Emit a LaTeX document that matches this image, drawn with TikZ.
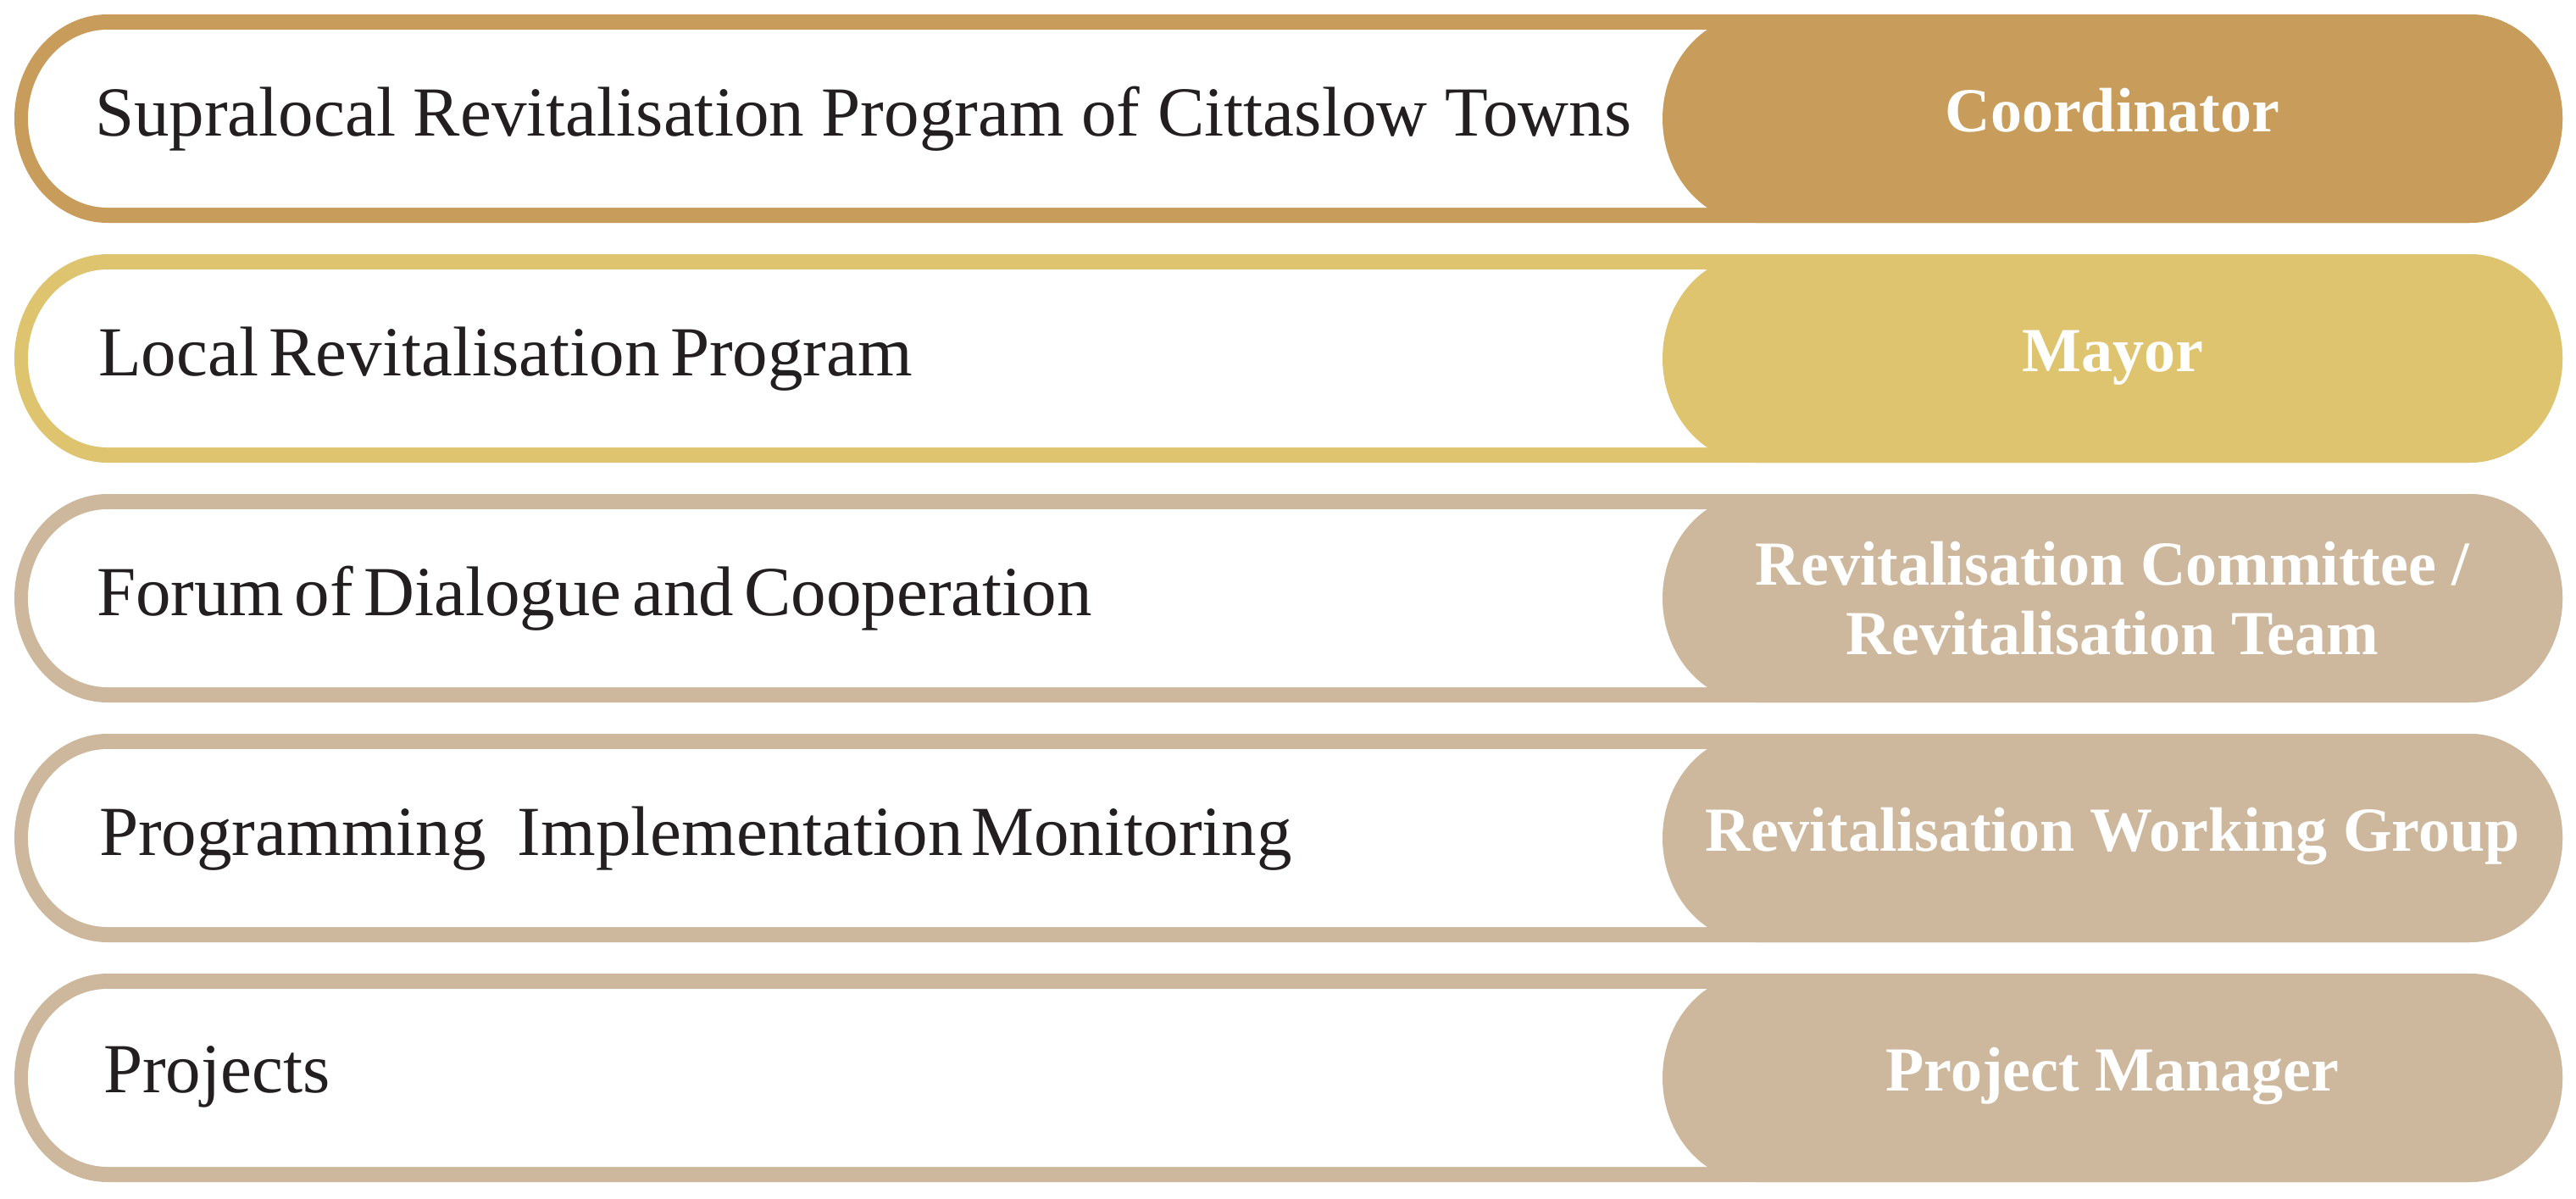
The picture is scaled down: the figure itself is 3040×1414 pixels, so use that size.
\documentclass[tikz,border=0pt]{standalone}
\usepackage{fontspec}
\setmainfont{Liberation Serif}
\definecolor{goldA}{HTML}{C89C5A}
\definecolor{goldB}{HTML}{DEC46E}
\definecolor{beige}{HTML}{CDB89D}
\definecolor{inkc}{HTML}{231F20}
\newcommand\pillpath[5]{({#1+#5},#3) -- ({#2-#5},#3) arc[start angle=-90,end angle=90,x radius=#5,y radius={#4/2}] -- ({#1+#5},{#3+#4}) arc[start angle=90,end angle=270,x radius=#5,y radius={#4/2}] -- cycle}
\newcommand\pillrow[2]{% color, top
  \fill[#1] \pillpath{17}{3024}{#2}{246}{110};
  \fill[white] \pillpath{33}{2600}{#2+18}{210}{94};
  \fill[#1] \pillpath{1962}{3024}{#2}{246}{110};
}
\tikzset{
  lefttxt/.style={anchor=base west, inner sep=0pt, text=inkc,
    font=\fontsize{83}{96}\selectfont},
  righttxt/.style={anchor=base, inner sep=0pt, text=white,
    font=\fontsize{74}{85}\selectfont\bfseries}
}
\begin{document}
\begin{tikzpicture}[x=1pt,y=-1pt]
\useasboundingbox (0,0) rectangle (3040,1414);
\fill[white] (0,0) rectangle (3040,1414);
% rows
\pillrow{goldA}{17}
\pillrow{goldB}{300}
\pillrow{beige}{583}
\pillrow{beige}{866}
\pillrow{beige}{1149}
% left texts
\node[lefttxt] (l1) at (112,160) {Supralocal Revitalisation Program of Cittaslow Towns};
\node[lefttxt] (l2) at (116,443) {\spaceskip=0.15em Local Revitalisation Program};
\node[lefttxt] (l3) at (114,726) {\spaceskip=0.15em Forum of Dialogue and Cooperation};
\node[lefttxt] (l4) at (117,1009) {Programming\hspace{0.45em}Implementation\hspace{0.12em}Monitoring};
\node[lefttxt] (l5) at (122,1289) {Projects};
% right texts
\node[righttxt] (r1) at (2493,155) {Coordinator};
\node[righttxt] (r2) at (2493,438) {Mayor};
\node[righttxt] (r3a) at (2493,690) {Revitalisation Committee /};
\node[righttxt] (r3b) at (2493,772) {Revitalisation Team};
\node[righttxt] (r4) at (2493,1004) {Revitalisation Working Group};
\node[righttxt] (r5) at (2493,1287) {Project Manager};
\end{tikzpicture}
\end{document}
